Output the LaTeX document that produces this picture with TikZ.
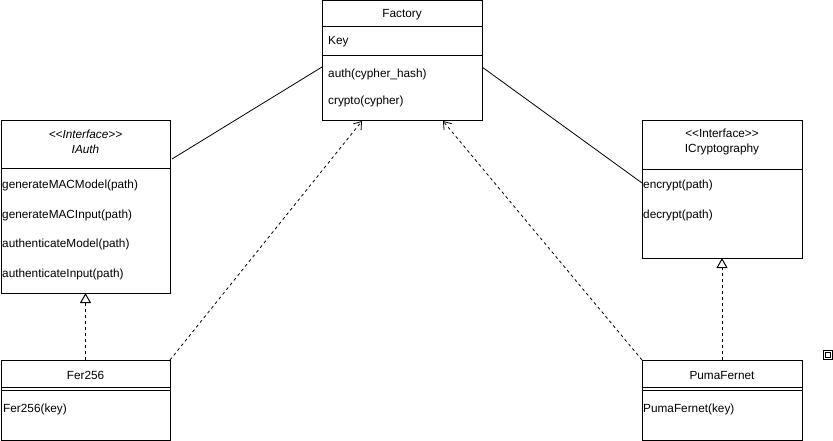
\documentclass[tikz,border=0pt]{standalone}
\usepackage{fontspec}
\setmainfont{Liberation Sans}
\usetikzlibrary{positioning, arrows.meta}

\begin{document}
\begin{tikzpicture}[
    x=1pt, y=-1pt,
    font=\fontsize{11.8}{15}\selectfont,
    classbox/.style={draw=black, line width=1pt, anchor=north west, inner sep=0pt, outer sep=0pt},
    member/.style={anchor=west, inner sep=0pt, text height=10.5pt, text depth=1.5pt},
    title/.style={inner sep=0pt, align=center},
    sep/.style={line width=1pt},
    assoc/.style={line width=0.8pt},
    depend/.style={line width=0.8pt, dash pattern=on 3pt off 3pt, -{Straight Barb[length=7pt,width=10pt]}},
    realize/.style={line width=1pt, dash pattern=on 3pt off 3pt, -{Triangle[open, length=10pt, width=11pt]}},
    node distance=17.3pt
    ]
    \useasboundingbox (0,0) rectangle (833,441);

    % classes
    \node[classbox, minimum width=160pt, minimum height=120pt] (factory) at (322,1)   {};
    \node[classbox, minimum width=169pt, minimum height=172pt] (iauth)   at (1,121)   {};
    \node[classbox, minimum width=160pt, minimum height=137pt] (icrypto) at (642,121) {};
    \node[classbox, minimum width=169pt, minimum height=80pt]  (fer)     at (1,360)   {};
    \node[classbox, minimum width=160pt, minimum height=80pt]  (puma)    at (642,360) {};

    % compartments
    \draw[sep] ([yshift=-26pt]factory.north west) -- ([yshift=-26pt]factory.north east);
    \draw[sep] ([yshift=-55pt]factory.north west) -- ([yshift=-55pt]factory.north east);
    \draw[sep] ([yshift=-48pt]iauth.north west) -- ([yshift=-48pt]iauth.north east);
    \draw[sep] ([yshift=-49pt]icrypto.north west) -- ([yshift=-49pt]icrypto.north east);
    \draw[sep] ([yshift=-27pt]fer.north west) -- ([yshift=-27pt]fer.north east);
    \draw[sep] ([yshift=-30.5pt]fer.north west) -- ([yshift=-30.5pt]fer.north east);
    \draw[sep] ([yshift=-27pt]puma.north west) -- ([yshift=-27pt]puma.north east);
    \draw[sep] ([yshift=-30.5pt]puma.north west) -- ([yshift=-30.5pt]puma.north east);

    % Factory
    \node[title]  (factoryname) at (402,15)  {Factory};
    \node[member] (key)         at (328,40)  {Key};
    \node[member] (auth)        at (328,73)  {auth(cypher\_hash)};
    \node[member] (crypto)      [below=15pt of auth.south west, anchor=north west] {crypto(cypher)};

    % IAuth
    \node[title]  (iauthname)   at (85.5,141.5) {\textit{<{}<Interface>{}>}\\\textit{IAuth}};
    \node[member] (genmodel)    at (2,184)   {generateMACModel(path)};
    \node[member] (geninput)    [below=of genmodel.south west, anchor=north west] {generateMACInput(path)};
    \node[member] (authmodel)   [below=of geninput.south west, anchor=north west] {authenticateModel(path)};
    \node[member] (authinput)   [below=of authmodel.south west, anchor=north west] {authenticateInput(path)};

    % ICryptography
    \node[title]  (icryptoname) at (722,142) {<{}<Interface>{}>\\ICryptography};
    \node[member] (encrypt)     at (643,184) {encrypt(path)};
    \node[member] (decrypt)     [below=18pt of encrypt.south west, anchor=north west] {decrypt(path)};

    % implementations
    \node[title]  (fername)     at (85.5,375) {Fer256};
    \node[member] (ferkey)      at (3,408)   {Fer256(key)};
    \node[title]  (pumaname)    at (722,375) {PumaFernet};
    \node[member] (pumakey)     at (643,408) {PumaFernet(key)};

    % marker
    \node[draw, line width=1pt, minimum size=9pt, inner sep=0pt, outer sep=0pt] (marker) at (828,355) {};
    \node[draw, line width=1pt, minimum size=5pt, inner sep=0pt, outer sep=0pt] (markerin) at (marker.center) {};

    % connectors
    \draw[assoc] ([yshift=-6pt]factory.west) -- ([xshift=2pt, yshift=48pt]iauth.east);
    \draw[assoc] ([yshift=-6pt]factory.east) -- ([yshift=6.5pt]icrypto.west);
    \draw[depend] (fer.north east) -- ([xshift=-40pt]factory.south);
    \draw[depend] (puma.north west) -- ([xshift=41pt]factory.south);
    \draw[realize] (fer.north) -- (iauth.south);
    \draw[realize] (puma.north) -- (icrypto.south);
\end{tikzpicture}
\end{document}
